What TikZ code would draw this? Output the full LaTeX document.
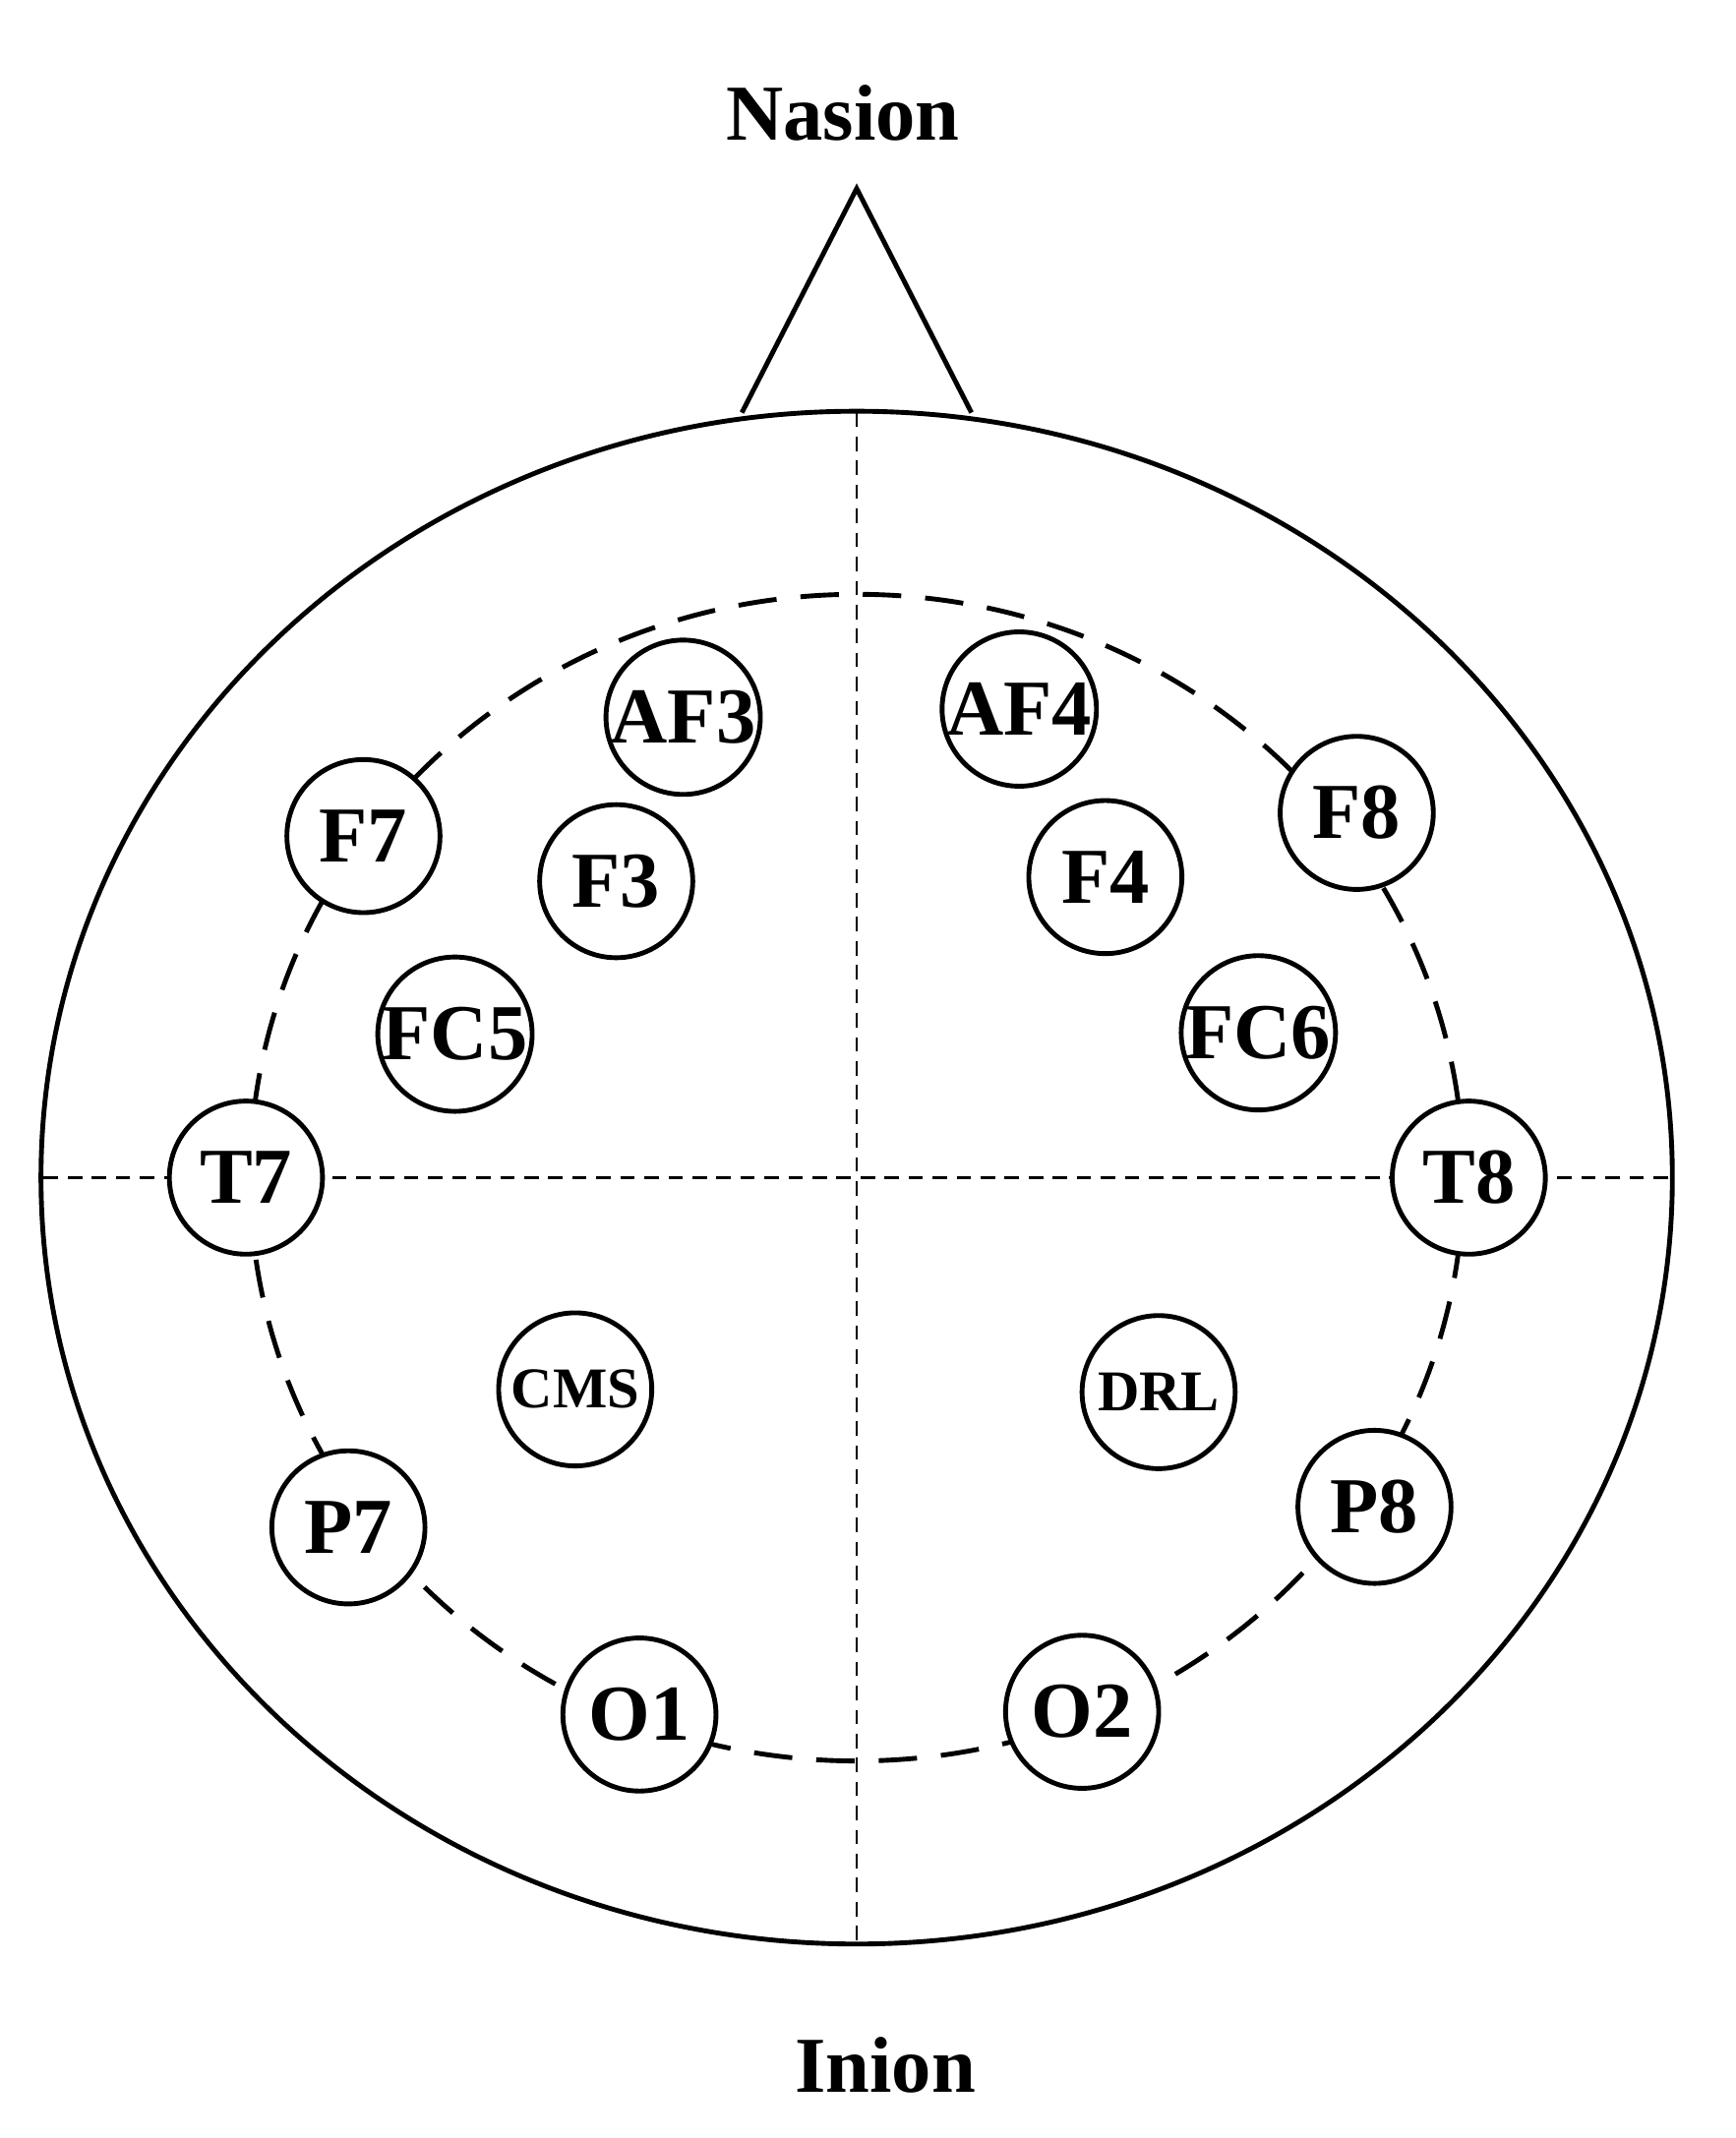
\documentclass[tikz,border=0pt]{standalone}
\usepackage{fontspec}
\setmainfont{Liberation Serif}
\begin{document}
\begin{tikzpicture}[x=0.01cm,y=-0.01cm,
  el/.style={circle,draw,line width=1pt,fill=white,minimum size=1.12cm,inner sep=0pt,font=\fontsize{16.5}{20}\selectfont\bfseries},
  els/.style={el,font=\fontsize{12}{15}\selectfont\bfseries},
  lbl/.style={font=\fontsize{16.5}{20}\selectfont\bfseries}]
\useasboundingbox[fill=white] (0,0) rectangle (1270,1565);
\coordinate (c) at (627,862);
\coordinate (nl) at (543,302);
\coordinate (nt) at (627,138);
\coordinate (nr) at (711,302);
\draw[line width=1pt] (nl) -- (nt) -- (nr);
\draw[line width=1pt] (c) ellipse [x radius=597, y radius=561];
\coordinate (vt) at (627,302); \coordinate (vb) at (627,1422);
\coordinate (hl) at (32,862); \coordinate (hr) at (1225,862);
\draw[densely dashed, line width=0.6pt] (vt) -- (vb);
\draw[densely dashed, line width=0.6pt] (hl) -- (hr);
\draw[dash pattern=on 8pt off 5pt, line width=1pt] (c) ellipse [x radius=444, y radius=427];
\node[el] (AF3) at (500,525) {AF3};
\node[el] (AF4) at (746,519) {AF4};
\node[el] (F7) at (266,612) {F7};
\node[el] (F8) at (993,595) {F8};
\node[el] (F3) at (451,645) {F3};
\node[el] (F4) at (809,642) {F4};
\node[el] (FC5) at (333,757) {FC5};
\node[el] (FC6) at (921,756) {FC6};
\node[el] (T7) at (180,862) {T7};
\node[el] (T8) at (1075,862) {T8};
\node[els] (CMS) at (421,1017) {CMS};
\node[els] (DRL) at (848,1019) {DRL};
\node[el] (P7) at (255,1118) {P7};
\node[el] (P8) at (1006,1103) {P8};
\node[el] (O1) at (468,1255) {O1};
\node[el] (O2) at (792,1253) {O2};
\node[lbl] (nasion) at (617,83) {Nasion};
\node[lbl] (inion) at (648,1512) {Inion};
\end{tikzpicture}
\end{document}
